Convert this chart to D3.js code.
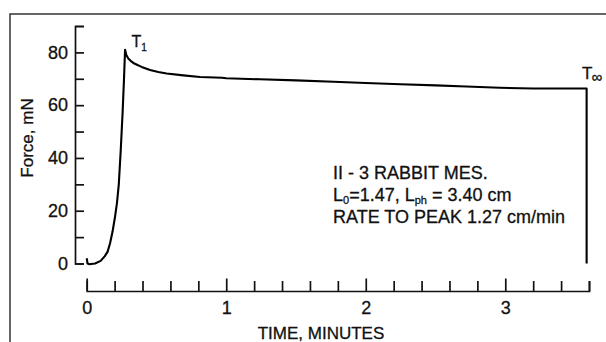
<!DOCTYPE html>
<html lang="en">
  <head>
    <meta charset="utf-8" />
    <title>Force vs time, rabbit mesentery</title>
    <script src="https://d3js.org/d3.v7.min.js"></script>
    <style>
      body {
        margin: 0;
        background: #fff;
      }
      text {
        font-family: "Liberation Sans", Arial, Helvetica, sans-serif;
        fill: #111;
        stroke: #111;
        stroke-width: 0.3;
      }
      .axis path,
      .axis line {
        stroke: #111;
        stroke-width: 1.7;
      }
      .axis text {
        font-size: 18px;
      }
    </style>
  </head>
  <body>
    <svg width="606" height="342"></svg>
    <script type="text/javascript">
      // minutes / mN
      const time = [
        0, 0.006, 0.02, 0.06, 0.1, 0.13, 0.15, 0.167, 0.185, 0.203, 0.217,
        0.23, 0.244, 0.258, 0.267, 0.275, 0.284, 0.298, 0.315, 0.334, 0.364,
        0.394, 0.454, 0.513, 0.573, 0.693, 0.812, 0.97, 1.0, 1.24, 1.5, 1.77,
        2.0, 2.25, 2.5, 2.72, 2.96, 3.2, 3.4, 3.583, 3.583,
      ];
      const force = [
        2, 0, -0.3, 0, 1, 2.8, 4.5, 7.6, 12, 17.7, 23, 30, 43, 58, 69.5, 81,
        79, 77.7, 76.8, 76, 75.2, 74.5, 73.3, 72.6, 72, 71.3, 70.7, 70.4, 70.2,
        69.8, 69.4, 68.9, 68.4, 67.9, 67.5, 67.1, 66.6, 66.3, 66.3, 66.3, 0,
      ];
      const yTicks = d3.range(0, 91, 10);
      const xTicks = d3.range(0, 19).map((i) => i * 0.2);
      const noteLines = ["II - 3 RABBIT MES.", "L0=1.47, Lph = 3.40 cm", "RATE TO PEAK 1.27 cm/min"];

      const svg = d3.select("svg");

      // scanned page frame
      svg
        .append("path")
        .attr("d", "M10,342V14H606")
        .attr("fill", "none")
        .attr("stroke", "#333")
        .attr("stroke-width", 1.5);

      const x = d3.scaleLinear().domain([0, 3.6]).range([86.7, 589]);
      const y = d3.scaleLinear().domain([0, 90]).range([263.5, 26]);

      // y axis: bracket with ticks pointing inward
      svg
        .append("g")
        .attr("class", "axis")
        .attr("transform", "translate(75,0)")
        .call(
          d3
            .axisLeft(y)
            .tickValues(yTicks)
            .tickSize(-9)
            .tickPadding(7)
            .tickFormat((d) => (d % 20 === 0 ? d : ""))
        );

      // x axis, separated below the plot
      const gx = svg
        .append("g")
        .attr("class", "axis")
        .attr("transform", "translate(0,291)")
        .call(
          d3
            .axisBottom(x)
            .tickValues(xTicks)
            .tickSize(-10)
            .tickPadding(10)
            .tickFormat((d) => (Math.abs(d - Math.round(d)) < 1e-6 ? Math.round(d) : ""))
        );
      gx.selectAll(".tick line").attr("y2", (d) =>
        Math.abs(d - Math.round(d)) < 1e-6 && d < 3.5 ? -12.5 : -10
      );

      // trace
      const line = d3
        .line()
        .x((d, i) => x(time[i]))
        .y((d) => y(d));
      svg
        .append("path")
        .datum(force)
        .attr("d", line)
        .attr("fill", "none")
        .attr("stroke", "#000")
        .attr("stroke-width", 2.1)
        .attr("stroke-linejoin", "round");

      // axis titles
      svg
        .append("text")
        .attr("transform", "translate(33,138) rotate(-90)")
        .attr("text-anchor", "middle")
        .attr("font-size", 17)
        .text("Force, mN");
      svg
        .append("text")
        .attr("x", 321)
        .attr("y", 339)
        .attr("text-anchor", "middle")
        .attr("font-size", 17)
        .text("TIME, MINUTES");

      // peak / final labels
      const t1 = svg.append("text").attr("x", 131.5).attr("y", 46.5).attr("font-size", 16);
      t1.append("tspan").text("T");
      t1.append("tspan").attr("font-size", 10).attr("dy", 4).text("1");
      const tInf = svg.append("text").attr("x", 582).attr("y", 79).attr("font-size", 17);
      tInf.append("tspan").text("T");
      tInf.append("tspan").attr("font-size", 15).attr("dy", 3).attr("dx", -1).text("∞");

      // note block
      const note = svg.append("g").attr("font-size", 18);
      note.append("text").attr("x", 333).attr("y", 179).text(noteLines[0]);
      const l2 = note.append("text").attr("x", 333).attr("y", 201);
      l2.append("tspan").text("L");
      l2.append("tspan").attr("font-size", 11).attr("dy", 3).text("0");
      l2.append("tspan").attr("dy", -3).text("=1.47, L");
      l2.append("tspan").attr("font-size", 11).attr("dy", 3).text("ph");
      l2.append("tspan").attr("dy", -3).text(" = 3.40 cm");
      note.append("text").attr("x", 333).attr("y", 223).text(noteLines[2]);
    </script>
  </body>
</html>
